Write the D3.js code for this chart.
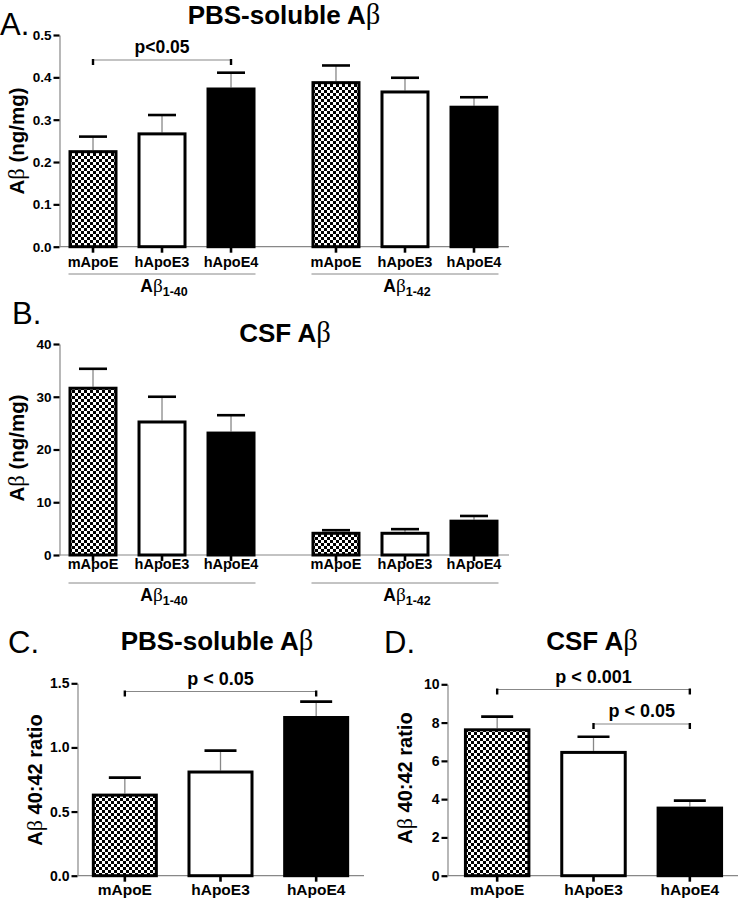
<!DOCTYPE html>
<html><head><meta charset="utf-8">
<script src="https://cdn.jsdelivr.net/npm/d3@7"></script>
<style>body{margin:0;background:#fff}svg{display:block}</style>
</head><body>
<svg id="chart" width="739" height="900"></svg>
<script>
// ---- data ----
const genotypes = ["mApoE", "hApoE3", "hApoE4"];
const peptides = ["1-40", "1-42"];
const pbsMean40 = [0.228, 0.270, 0.376];
const pbsSem40 = [0.032, 0.041, 0.035];
const pbsMean42 = [0.391, 0.369, 0.333];
const pbsSem42 = [0.037, 0.030, 0.020];
const csfMean40 = [31.9, 25.5, 23.4];
const csfSem40 = [3.4, 4.5, 3.1];
const csfMean42 = [4.4, 4.4, 6.7];
const csfSem42 = [0.3, 0.5, 0.7];
const ratioPbsMean = [0.64, 0.82, 1.245];
const ratioPbsSem = [0.125, 0.155, 0.112];
const ratioCsfMean = [7.70, 6.52, 3.61];
const ratioCsfSem = [0.61, 0.74, 0.31];
const ticksA = [0, 0.1, 0.2, 0.3, 0.4, 0.5];
const ticksB = [0, 10, 20, 30, 40];
const ticksC = [0, 0.5, 1.0, 1.5];
const ticksD = [0, 2, 4, 6, 8, 10];

const FONT = "'Liberation Sans', Arial, Helvetica, sans-serif";
const SERIF = "'Liberation Serif', 'Times New Roman', serif";
const svg = d3.select("#chart").style("font-family", FONT);

// checker pattern
const defs = svg.append("defs");
const pat = defs.append("pattern").attr("id", "checker").attr("patternUnits", "userSpaceOnUse")
  .attr("width", 6).attr("height", 6);
pat.append("rect").attr("width", 6).attr("height", 6).attr("fill", "#fff");
pat.append("rect").attr("width", 3).attr("height", 3).attr("fill", "#000");
pat.append("rect").attr("x", 3).attr("y", 3).attr("width", 3).attr("height", 3).attr("fill", "#000");
const fills = {mApoE: "url(#checker)", hApoE3: "#fff", hApoE4: "#000"};

function abText(sel, size, prefix, suffix, sub, subSize) {
  sel.append("tspan").attr("font-weight", "bold").text(prefix + "A");
  sel.append("tspan").attr("font-family", SERIF).attr("font-weight", "normal").attr("font-size", size * 1.1).text("β");
  if (suffix) sel.append("tspan").attr("font-weight", "bold").text(suffix);
  if (sub) sel.append("tspan").attr("font-weight", "bold").attr("font-size", subSize).attr("dy", 4).text(sub);
}

function yAxis(g, y, x0, ticks, fmt, fs) {
  const ax = d3.axisLeft(y).tickValues(ticks).tickFormat(fmt).tickSize(6).tickSizeOuter(0).tickPadding(2);
  const a = g.append("g").attr("transform", `translate(${x0},0)`).call(ax);
  a.select(".domain").attr("stroke", "#888").attr("stroke-width", 1.2);
  a.selectAll(".tick line").attr("stroke", "#000").attr("stroke-width", 2.2);
  a.selectAll(".tick text").attr("font-family", FONT).attr("font-weight", "bold").attr("font-size", fs).attr("fill", "#000");
}

function drawBars(g, xs, y, means, sems, capHalf) {
  const bw = xs.bandwidth();
  genotypes.forEach((gt, i) => {
    const cx = xs(gt) + bw / 2;
    const top = y(means[i] + sems[i]);
    g.append("line").attr("x1", cx).attr("x2", cx).attr("y1", y(means[i])).attr("y2", top)
      .attr("stroke", "#888").attr("stroke-width", 1.3);
    g.append("line").attr("x1", cx - capHalf).attr("x2", cx + capHalf).attr("y1", top).attr("y2", top)
      .attr("stroke", "#000").attr("stroke-width", 2.6);
    g.append("rect").attr("x", xs(gt) + 1.5).attr("width", bw - 3)
      .attr("y", y(means[i]) + 1.5).attr("height", y(0) - y(means[i]) - 1.5)
      .attr("fill", fills[gt]).attr("stroke", "#000").attr("stroke-width", 3);
  });
}

function xTicks(g, xs, y0, labelDy, fs) {
  const bw = xs.bandwidth();
  genotypes.forEach(gt => {
    const cx = xs(gt) + bw / 2;
    g.append("line").attr("x1", cx).attr("x2", cx).attr("y1", y0).attr("y2", y0 + 6)
      .attr("stroke", "#000").attr("stroke-width", 2.6);
    g.append("text").attr("x", cx).attr("y", y0 + labelDy).attr("text-anchor", "middle")
      .attr("font-weight", "bold").attr("font-size", fs).text(gt);
  });
}

function sigBracket(g, x1, x2, yy, label, fs) {
  g.append("line").attr("x1", x1).attr("x2", x2).attr("y1", yy).attr("y2", yy).attr("stroke", "#888").attr("stroke-width", 1.2);
  [x1, x2].forEach(x => g.append("line").attr("x1", x).attr("x2", x).attr("y1", yy - 1).attr("y2", yy + 5)
    .attr("stroke", "#000").attr("stroke-width", 2.4));
  g.append("text").attr("x", (x1 + x2) / 2).attr("y", yy - 7).attr("text-anchor", "middle")
    .attr("font-weight", "bold").attr("font-size", fs).text(label);
}

function panelLetter(x, y, t) {
  svg.append("text").attr("x", x).attr("y", y).attr("font-size", 31).attr("font-weight", "normal").text(t);
}
function title(x, y, name) {
  const t = svg.append("text").attr("x", x).attr("y", y).attr("text-anchor", "middle").attr("font-size", 26);
  abText(t, 26, name, null);
}
function yLabel(x, y, suffix, fs) {
  const t = svg.append("text").attr("transform", `translate(${x},${y}) rotate(-90)`).attr("text-anchor", "middle").attr("font-size", fs);
  abText(t, fs, "", suffix);
}

// ---- two-group panels (A, B) ----
function groupedPanel(opt) {
  const g = svg.append("g");
  const y = d3.scaleLinear().domain(opt.domain).range(opt.yRange);
  const gx = d3.scaleBand().domain(peptides).range([58.5, 508.5]).paddingInner(0.148).paddingOuter(0);
  const inner = d3.scaleBand().domain(genotypes).range([0, gx.bandwidth()]).paddingInner(0.29).paddingOuter(0.145);
  yAxis(g, y, opt.axisX, opt.ticks, opt.fmt, 13.5);
  g.append("line").attr("x1", opt.axisX).attr("x2", 509).attr("y1", y(0)).attr("y2", y(0)).attr("stroke", "#888").attr("stroke-width", 1.2);
  peptides.forEach((p, k) => {
    const xs = inner.copy().range([gx(p), gx(p) + gx.bandwidth()]);
    drawBars(g, xs, y, opt.means[k], opt.sems[k], 14);
    xTicks(g, xs, y(0), opt.labelDy, 14.5);
    const l = xs(genotypes[0]), r = xs(genotypes[2]) + xs.bandwidth();
    g.append("line").attr("x1", l).attr("x2", r).attr("y1", opt.lineY).attr("y2", opt.lineY).attr("stroke", "#888").attr("stroke-width", 1);
    const t = g.append("text").attr("x", (l + r) / 2 + 2).attr("y", opt.lineY + 18).attr("text-anchor", "middle").attr("font-size", 17.5);
    abText(t, 17.5, "", null, p, 12.5);
  });
  if (opt.sig) {
    const xs = inner.copy().range([gx(peptides[0]), gx(peptides[0]) + gx.bandwidth()]);
    const c = gt => xs(gt) + xs.bandwidth() / 2;
    sigBracket(g, c("mApoE"), c("hApoE4"), opt.sig.y, opt.sig.label, 17.5);
  }
  yLabel(opt.labelX, opt.labelY, " (ng/mg)", 20.5);
}

panelLetter(0, 35, "A.");
title(284, 24, "PBS-soluble ");
groupedPanel({domain: [0, 0.5], yRange: [246.7, 35], axisX: 59.5, ticks: ticksA, fmt: d3.format(".1f"),
  means: [pbsMean40, pbsMean42], sems: [pbsSem40, pbsSem42], labelDy: 20, lineY: 274,
  sig: {y: 60, label: "p<0.05"}, labelX: 24, labelY: 141});

panelLetter(12, 324, "B.");
title(285, 342, "CSF ");
groupedPanel({domain: [0, 40], yRange: [555, 344], axisX: 59.5, ticks: ticksB, fmt: d3.format("d"),
  means: [csfMean40, csfMean42], sems: [csfSem40, csfSem42], labelDy: 14, lineY: 583,
  sig: null, labelX: 24, labelY: 448});

// ---- single-group panels (C, D) ----
function singlePanel(opt) {
  const g = svg.append("g");
  const y = d3.scaleLinear().domain(opt.domain).range(opt.yRange);
  const xs = d3.scaleBand().domain(genotypes).range(opt.xRange).paddingInner(0.31).paddingOuter(0.155);
  yAxis(g, y, opt.axisX, opt.ticks, opt.fmt, 14);
  g.append("line").attr("x1", opt.axisX).attr("x2", opt.xRange[1]).attr("y1", y(0)).attr("y2", y(0)).attr("stroke", "#888").attr("stroke-width", 1.2);
  drawBars(g, xs, y, opt.means, opt.sems, 16);
  xTicks(g, xs, y(0), 19, 15.5);
  const c = gt => xs(gt) + xs.bandwidth() / 2;
  opt.sigs.forEach(s => sigBracket(g, c(s.a), c(s.b), s.y, s.label, 18));
  yLabel(opt.labelX, opt.labelY, " 40:42 ratio", 20);
}

panelLetter(8, 653, "C.");
title(217, 650, "PBS-soluble ");
singlePanel({domain: [0, 1.5], yRange: [875.7, 683.3], xRange: [77, 364], axisX: 77.5, ticks: ticksC,
  fmt: d3.format(".1f"), means: ratioPbsMean, sems: ratioPbsSem,
  sigs: [{a: "mApoE", b: "hApoE4", y: 691.5, label: "p < 0.05"}], labelX: 42, labelY: 780});

panelLetter(384, 653, "D.");
title(592, 650, "CSF ");
singlePanel({domain: [0, 10], yRange: [875.7, 684.3], xRange: [449, 738], axisX: 447.5, ticks: ticksD,
  fmt: d3.format("d"), means: ratioCsfMean, sems: ratioCsfSem,
  sigs: [{a: "mApoE", b: "hApoE4", y: 689.5, label: "p < 0.001"},
         {a: "hApoE3", b: "hApoE4", y: 724, label: "p < 0.05"}], labelX: 412, labelY: 778});
</script>
</body></html>
